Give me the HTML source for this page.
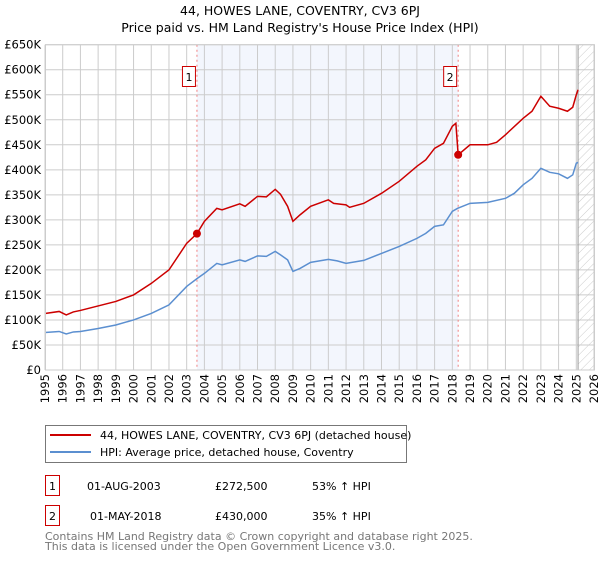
<!DOCTYPE html>
<html><head><meta charset="utf-8"><style>
body{margin:0;background:#fff;font-family:"DejaVu Sans","Liberation Sans",sans-serif;}
svg text{font-family:"DejaVu Sans","Liberation Sans",sans-serif;}
</style></head><body>
<svg id="chart" width="600" height="560" xmlns="http://www.w3.org/2000/svg">
<defs><pattern id="hatch" width="6" height="6" patternUnits="userSpaceOnUse" patternTransform="rotate(45)"><line x1="0" y1="0" x2="0" y2="6" stroke="#ccc" stroke-width="1"/></pattern></defs>
<text x="300" y="15" text-anchor="middle" font-size="12.5">44, HOWES LANE, COVENTRY, CV3 6PJ</text>
<text x="300" y="32" text-anchor="middle" font-size="12.5">Price paid vs. HM Land Registry's House Price Index (HPI)</text>
<g id="plot"></g>
<g>
<rect x="45.5" y="425.5" width="361" height="37" fill="#fff" stroke="#777"/>
<line x1="50" y1="435" x2="91" y2="435" stroke="#cc0000" stroke-width="2"/>
<text x="100" y="439" font-size="11">44, HOWES LANE, COVENTRY, CV3 6PJ (detached house)</text>
<line x1="50" y1="452" x2="91" y2="452" stroke="#5b8fd0" stroke-width="2"/>
<text x="100" y="456" font-size="11">HPI: Average price, detached house, Coventry</text>
</g>
<g font-size="11">
<rect x="45.5" y="475.5" width="14" height="20" fill="#fff" stroke="#cc0000"/>
<text x="52.5" y="490" text-anchor="middle">1</text>
<text x="87" y="490">01-AUG-2003</text><text x="215" y="490">£272,500</text><text x="312" y="490">53% ↑ HPI</text>
</g>
<g font-size="11">
<rect x="45.5" y="505.5" width="14" height="20" fill="#fff" stroke="#cc0000"/>
<text x="52.5" y="520" text-anchor="middle">2</text>
<text x="90" y="520">01-MAY-2018</text><text x="215" y="520">£430,000</text><text x="312" y="520">35% ↑ HPI</text>
</g>
<text x="45" y="540" font-size="11" fill="#777">Contains HM Land Registry data © Crown copyright and database right 2025.</text>
<text x="45" y="550" font-size="11" fill="#777">This data is licensed under the Open Government Licence v3.0.</text>
</svg>
<script>
const yTicks=[0,50,100,150,200,250,300,350,400,450,500,550,600,650];
const yTickLabels=["£0","£50K","£100K","£150K","£200K","£250K","£300K","£350K","£400K","£450K","£500K","£550K","£600K","£650K"];
const xYears=[1995,1996,1997,1998,1999,2000,2001,2002,2003,2004,2005,2006,2007,2008,2009,2010,2011,2012,2013,2014,2015,2016,2017,2018,2019,2020,2021,2022,2023,2024,2025,2026];
const hpiYears=[1995,1995.8,1996.2,1996.6,1997,1998,1999,2000,2001,2002,2003,2003.6,2004,2004.7,2005,2006,2006.3,2007,2007.5,2008,2008.3,2008.7,2009,2009.4,2010,2011,2011.5,2012,2013,2014,2015,2016,2016.5,2017,2017.5,2018,2018.3,2019,2020,2021,2021.5,2022,2022.5,2023,2023.5,2024,2024.5,2024.8,2025,2025.1];
const hpiValues=[75,77,72,76,77,83,90,100,113,130,167,183,193,213,210,220,217,228,227,237,230,220,197,203,215,221,218,213,219,233,247,263,273,287,290,317,323,333,335,343,353,370,383,403,395,392,383,390,413,415];
const priceYears=[1995,1995.8,1996.2,1996.6,1997,1998,1999,2000,2001,2002,2003,2003.58,2004,2004.7,2005,2006,2006.3,2007,2007.5,2008,2008.3,2008.7,2009,2009.4,2010,2011,2011.3,2012,2012.2,2013,2014,2015,2016,2016.5,2017,2017.5,2018,2018.2,2018.33,2019,2020,2020.5,2021,2022,2022.5,2023,2023.5,2024,2024.5,2024.8,2025,2025.1];
const priceValues=[113,117,110,116,119,128,137,150,173,200,253,272.5,297,323,320,332,327,347,346,361,351,327,297,310,327,340,333,330,325,333,353,377,407,420,443,453,487,493,430,450,450,455,470,503,517,547,527,523,517,525,550,560];
const saleYears=[2003.58,2018.33];
const saleValues=[272.5,430];
const saleLabels=["1","2"];
const x0=45,x1=594,y0=370,y1=44.7;
const X=y=>x0+(y-1995)*(x1-x0)/31;
const Y=v=>y0-(v/650)*(y0-y1);
const NS="http://www.w3.org/2000/svg";
const g=document.getElementById('plot');
function mk(t,a){const e=document.createElementNS(NS,t);for(const k in a)e.setAttribute(k,a[k]);g.appendChild(e);return e;}
let e;
e=mk('rect',{x:X(saleYears[0]),y:y1,width:X(saleYears[1])-X(saleYears[0]),height:y0-y1,fill:'#f3f6fd'});


e=mk('rect',{x:X(2025.1),y:y1,width:x1-X(2025.1),height:y0-y1,fill:'url(#hatch)'});


yTicks.forEach((v,i)=>{
 e=mk('line',{x1:x0,x2:x1,y1:Y(v),y2:Y(v),stroke:'#cccccc'});
 
 
 e=mk('text',{x:x0-4,y:Y(v)+4,'text-anchor':'end','font-size':'11.5'});e.textContent=yTickLabels[i];
 
 
});
xYears.forEach(yr=>{
 e=mk('line',{x1:X(yr),x2:X(yr),y1:y1,y2:y0,stroke:'#cccccc'});
 
 
 e=mk('text',{x:X(yr)+4,y:y0+4,'text-anchor':'end','font-size':'11.5',transform:`rotate(-90 ${X(yr)+4} ${y0+4})`});e.textContent=yr;
 
 
});
e=mk('line',{x1:X(2025.1),x2:X(2025.1),y1:y1,y2:y0,stroke:'#999'});


saleYears.forEach((yr,i)=>{
 e=mk('line',{x1:X(yr),x2:X(yr),y1:y1,y2:y0,stroke:'#f08080','stroke-dasharray':'2,3'});
 
 
});
e=mk('polyline',{points:hpiYears.map((yr,i)=>X(yr)+','+Y(hpiValues[i])).join(' '),fill:'none',stroke:'#5b8fd0','stroke-width':1.5});


e=mk('polyline',{points:priceYears.map((yr,i)=>X(yr)+','+Y(priceValues[i])).join(' '),fill:'none',stroke:'#cc0000','stroke-width':1.5});


saleYears.forEach((yr,i)=>{
 e=mk('circle',{cx:X(yr),cy:Y(saleValues[i]),r:4,fill:'#cc0000'});
 
 
 const bx=X(yr)-15;
 e=mk('rect',{x:bx+0.5,y:66.5,width:13,height:20,fill:'#fff',stroke:'#cc0000'});
 
 
 e=mk('text',{x:bx+7,y:81,'text-anchor':'middle','font-size':'11'});e.textContent=saleLabels[i];
 
 
});
e=mk('rect',{x:x0+0.5,y:y1,width:x1-x0,height:y0-y1,fill:'none',stroke:'#cccccc'});


</script>
</body></html>
